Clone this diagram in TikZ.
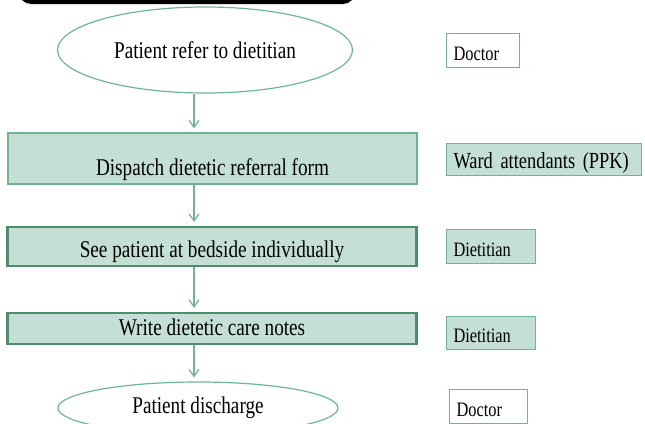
\documentclass[tikz,border=0pt]{standalone}
\usepackage{fontspec}
\setmainfont{Liberation Serif}[FakeStretch=0.8]
\usepackage{xcolor}
\usetikzlibrary{arrows.meta, shapes, positioning, calc}
\definecolor{leaf}{HTML}{C4E0D4}
\definecolor{edge}{HTML}{72B394}
\definecolor{edgedk}{HTML}{4F8C6D}
\tikzset{
  term/.style={ellipse, draw=edge, line width=1.2pt, inner sep=0pt,
               font=\fontsize{24}{26}\selectfont},
  proc/.style={rectangle, draw=edge, fill=leaf, line width=1.2pt, minimum width=409pt,
               inner ysep=3pt, text depth=6pt, font=\fontsize{24}{26}\selectfont},
  procb/.style={proc, draw=edgedk, line width=2.4pt},
  who/.style={rectangle, draw=edge, fill=white, line width=1pt, anchor=north west,
              inner xsep=7pt, inner ysep=0pt, align=left, text height=21pt, text depth=2pt,
              font=\fontsize{20.5}{22}\selectfont},
  arc/.style={-{Straight Barb[length=7pt, width=10pt]}, draw=edge, line width=1.2pt,
              shorten >=4pt}
}
\begin{document}
\begin{tikzpicture}[x=1pt, y=-1pt]
    \useasboundingbox (0,0) rectangle (645,423);
    % banner at the top
    \fill[black, rounded corners=12pt] (19,-20) rectangle (355,4);
    \node[term, minimum width=295pt, minimum height=86pt] (s0) at (205,50)
         {Patient refer to dietitian};
    \node[proc, text height=39pt] (s1) at (212.5,158.5) {Dispatch dietetic referral form};
    \node[procb, text height=27pt] (s2) at (212,246.5) {See patient at bedside individually};
    \node[procb, text height=19pt] (s3) at (212,328.5) {Write dietetic care notes};
    \node[term, minimum width=280pt, minimum height=52pt] (s4) at (198,408)
         {Patient discharge};
    \coordinate (ax) at (194,0);
    \foreach \a/\b in {s0/s1, s1/s2, s2/s3, s3/s4} \draw[arc] (\a.south -| ax) -- (\b.north -| ax);
    % who does it
    \node[who, text width=59pt, minimum height=34pt] (w0) at (446,33) {Doctor};
    \node[who, fill=leaf, text width=181pt, minimum height=32pt, text height=20pt,
          font=\fontsize{23}{24}\selectfont] (w1) at (446,143) {Ward attendants (PPK)};
    \node[who, fill=leaf, text width=75pt, minimum height=34pt] (w2) at (446,229) {Dietitian};
    \node[who, fill=leaf, text width=75pt, minimum height=33pt] (w3) at (446,316) {Dietitian};
    \node[who, text width=64pt, minimum height=34pt] (w4) at (449,389) {Doctor};
  \end{tikzpicture}
\end{document}
